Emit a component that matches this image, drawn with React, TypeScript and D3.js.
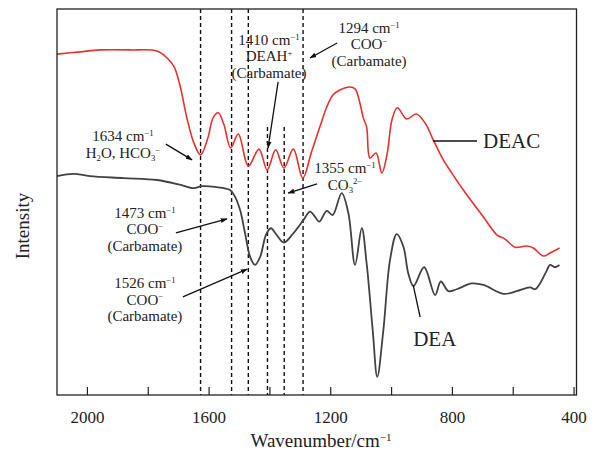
import React from 'react';
import * as d3 from 'd3';

// ---------- data ----------
const deacWn = [2100, 2024, 1959, 1860, 1771, 1738, 1715, 1696, 1673, 1650, 1628, 1604, 1587, 1570, 1551, 1529, 1504, 1471, 1436, 1409, 1381, 1354, 1323, 1292, 1263, 1236, 1213, 1193, 1170, 1137, 1120, 1104, 1093, 1082, 1071, 1051, 1032, 1014, 999, 981, 950, 919, 890, 863, 830, 802, 764, 698, 654, 627, 594, 556, 534, 501, 479, 448];
const deacI = [88.3, 88.9, 89.4, 89.4, 89.1, 87.3, 85.0, 80.3, 71.8, 65.3, 62.2, 66.6, 71.8, 73.1, 70.0, 64.0, 67.6, 59.3, 63.7, 58.3, 63.5, 58.8, 63.7, 56.2, 63.0, 69.4, 74.6, 77.7, 79.0, 79.8, 79.3, 75.6, 71.8, 69.4, 61.4, 62.7, 57.5, 62.7, 71.2, 74.4, 71.5, 72.8, 70.5, 66.1, 60.9, 57.5, 53.1, 46.1, 41.5, 40.4, 38.3, 38.6, 38.1, 36.0, 36.8, 38.1];

const deaWn = [2100, 2045, 1992, 1881, 1771, 1696, 1651, 1623, 1580, 1531, 1515, 1498, 1482, 1465, 1449, 1432, 1413, 1397, 1378, 1354, 1323, 1290, 1268, 1252, 1238, 1213, 1194, 1164, 1142, 1120, 1098, 1082, 1062, 1047, 1027, 1005, 983, 961, 945, 928, 893, 857, 838, 813, 786, 736, 698, 632, 589, 545, 528, 512, 492, 479, 463, 448];
const deaI = [56.7, 57.3, 56.7, 56.2, 55.7, 54.5, 53.6, 54.1, 53.9, 53.1, 51.4, 47.9, 42.0, 35.8, 33.7, 35.8, 41.5, 43.2, 41.5, 39.5, 41.9, 45.3, 47.5, 46.2, 44.9, 47.7, 46.6, 52.3, 47.1, 33.7, 43.2, 34.1, 16.8, 4.7, 16.8, 35.0, 41.7, 38.4, 31.5, 28.2, 33.1, 25.9, 29.4, 26.9, 27.4, 28.9, 28.5, 26.2, 26.9, 27.9, 27.4, 28.9, 31.9, 33.7, 33.1, 33.7];

const xTicks = [2000, 1800, 1600, 1400, 1200, 1000, 800, 600, 400];
const xTickLabels = [2000, 1600, 1200, 800, 400];

// dashed peak markers: wavenumber and top of the line (intensity units)
const peakLineWn = [1628, 1526, 1471, 1408, 1353, 1291];
const peakLineTop = [100, 100, 100, 69.4, 69.4, 100];

type Seg = { t: string; s?: 'sup' | 'sub' };
type Ann = { x: number; y: number; lines: Seg[][]; from: [number, number]; to: [number, number] };

const annotations: Ann[] = [
  { x: 1883, y: 65.7, lines: [[{ t: '1634 cm' }, { t: '−1', s: 'sup' }], [{ t: 'H' }, { t: '2', s: 'sub' }, { t: 'O, HCO' }, { t: '3', s: 'sub' }, { t: '−', s: 'sup' }]], from: [1742, 65.0], to: [1656, 60.9] },
  { x: 1403, y: 90.7, lines: [[{ t: '1410 cm' }, { t: '−1', s: 'sup' }], [{ t: 'DEAH' }, { t: '+', s: 'sup' }], [{ t: '(Carbamate)' }]], from: [1373, 81.1], to: [1406, 64.0] },
  { x: 1074, y: 93.8, lines: [[{ t: '1294 cm' }, { t: '−1', s: 'sup' }], [{ t: 'COO' }, { t: '−', s: 'sup' }], [{ t: '(Carbamate)' }]], from: [1179, 91.2], to: [1268, 87.3] },
  { x: 1153, y: 57.5, lines: [[{ t: '1355 cm' }, { t: '−1', s: 'sup' }], [{ t: 'CO' }, { t: '3', s: 'sub' }, { t: '2−', s: 'sup' }]], from: [1245, 54.7], to: [1340, 52.3] },
  { x: 1811, y: 45.9, lines: [[{ t: '1473 cm' }, { t: '−1', s: 'sup' }], [{ t: 'COO' }, { t: '−', s: 'sup' }], [{ t: '(Carbamate)' }]], from: [1709, 42.0], to: [1541, 45.6] },
  { x: 1811, y: 27.7, lines: [[{ t: '1526 cm' }, { t: '−1', s: 'sup' }], [{ t: 'COO' }, { t: '−', s: 'sup' }], [{ t: '(Carbamate)' }]], from: [1686, 25.4], to: [1475, 32.6] },
];

const seriesLabels = [
  { name: 'DEAC', x: 699, y: 64.0, from: [864, 65.8], to: [719, 65.8] },
  { name: 'DEA', x: 929, y: 12.7, from: [929, 28.5], to: [906, 20.2] },
];

// ---------- layout ----------
const W = 598, H = 457;
const L = 57, R = 576.5, T = 9, B = 395;
const FONT = '"Liberation Serif", "Times New Roman", serif';

function Rich({ segs, fs }: { segs: Seg[]; fs: number }) {
  let cur = 0;
  return (
    <>
      {segs.map((sg, i) => {
        const target = sg.s === 'sup' ? -0.34 * fs : sg.s === 'sub' ? 0.22 * fs : 0;
        const dy = target - cur;
        cur = target;
        return (
          <tspan key={i} dy={dy} fontSize={sg.s ? fs * 0.58 : fs}>{sg.t}</tspan>
        );
      })}
    </>
  );
}

export default function App() {
  const x = d3.scaleLinear().domain([2100, 392]).range([L, R]);
  const y = d3.scaleLinear().domain([0, 100]).range([B, T]);
  const line = d3.line<[number, number]>()
    .x(d => x(d[0]))
    .y(d => y(d[1]))
    .curve(d3.curveCatmullRom.alpha(0.5));
  const deac = line(deacWn.map((w, i) => [w, deacI[i]] as [number, number])) || '';
  const dea = line(deaWn.map((w, i) => [w, deaI[i]] as [number, number])) || '';
  const annFs = 15;
  const lh = 16.5;

  return (
    <svg width={W} height={H} style={{ position: 'absolute', left: 0, top: 0, background: '#fff' }} fontFamily={FONT}>
      <defs>
        <marker id="arr" viewBox="0 0 10 10" refX="9" refY="5" markerWidth="7" markerHeight="7" orient="auto" markerUnits="userSpaceOnUse">
          <path d="M0,1.5 L10,5 L0,8.5 Z" fill="#111" />
        </marker>
      </defs>
      <rect x={0} y={0} width={W} height={H} fill="#fff" />

      {/* dashed peak lines */}
      {peakLineWn.map((w, i) => (
        <line key={i} x1={x(w)} x2={x(w)} y1={y(peakLineTop[i])} y2={B} stroke="#111" strokeWidth={1.4} strokeDasharray="4,3" />
      ))}

      {/* curves */}
      <path d={deac} fill="none" stroke="#e8302e" strokeWidth={1.6} />
      <path d={dea} fill="none" stroke="#424242" strokeWidth={1.8} />

      {/* frame */}
      <rect x={L} y={T} width={R - L} height={B - T} fill="none" stroke="#222" strokeWidth={1.3} />
      {xTicks.map(t => (
        <line key={t} x1={x(t)} x2={x(t)} y1={B} y2={B - 8} stroke="#222" strokeWidth={1.2} />
      ))}
      {xTickLabels.map(t => (
        <text key={t} x={x(t)} y={423} fontSize={17} textAnchor="middle" fill="#222">{t}</text>
      ))}
      <text x={321} y={447} fontSize={19} textAnchor="middle" fill="#222">
        <Rich segs={[{ t: 'Wavenumber/cm' }, { t: '−1', s: 'sup' }]} fs={19} />
      </text>
      <text transform="translate(29,226) rotate(-90)" fontSize={19} textAnchor="middle" fill="#222">Intensity</text>

      {/* annotations */}
      {annotations.map((a, i) => (
        <g key={i}>
          {a.lines.map((ln, j) => (
            <text key={j} x={x(a.x)} y={y(a.y) + j * lh} fontSize={annFs} textAnchor="middle" fill="#222">
              <Rich segs={ln} fs={annFs} />
            </text>
          ))}
          <line x1={x(a.from[0])} y1={y(a.from[1])} x2={x(a.to[0])} y2={y(a.to[1])} stroke="#111" strokeWidth={1.3} markerEnd="url(#arr)" />
        </g>
      ))}

      {/* series labels */}
      {seriesLabels.map((s, i) => (
        <g key={i}>
          <line x1={x(s.from[0])} y1={y(s.from[1])} x2={x(s.to[0])} y2={y(s.to[1])} stroke="#111" strokeWidth={1.3} />
          <text x={x(s.x)} y={y(s.y)} fontSize={21} fill="#222">{s.name}</text>
        </g>
      ))}
    </svg>
  );
}
